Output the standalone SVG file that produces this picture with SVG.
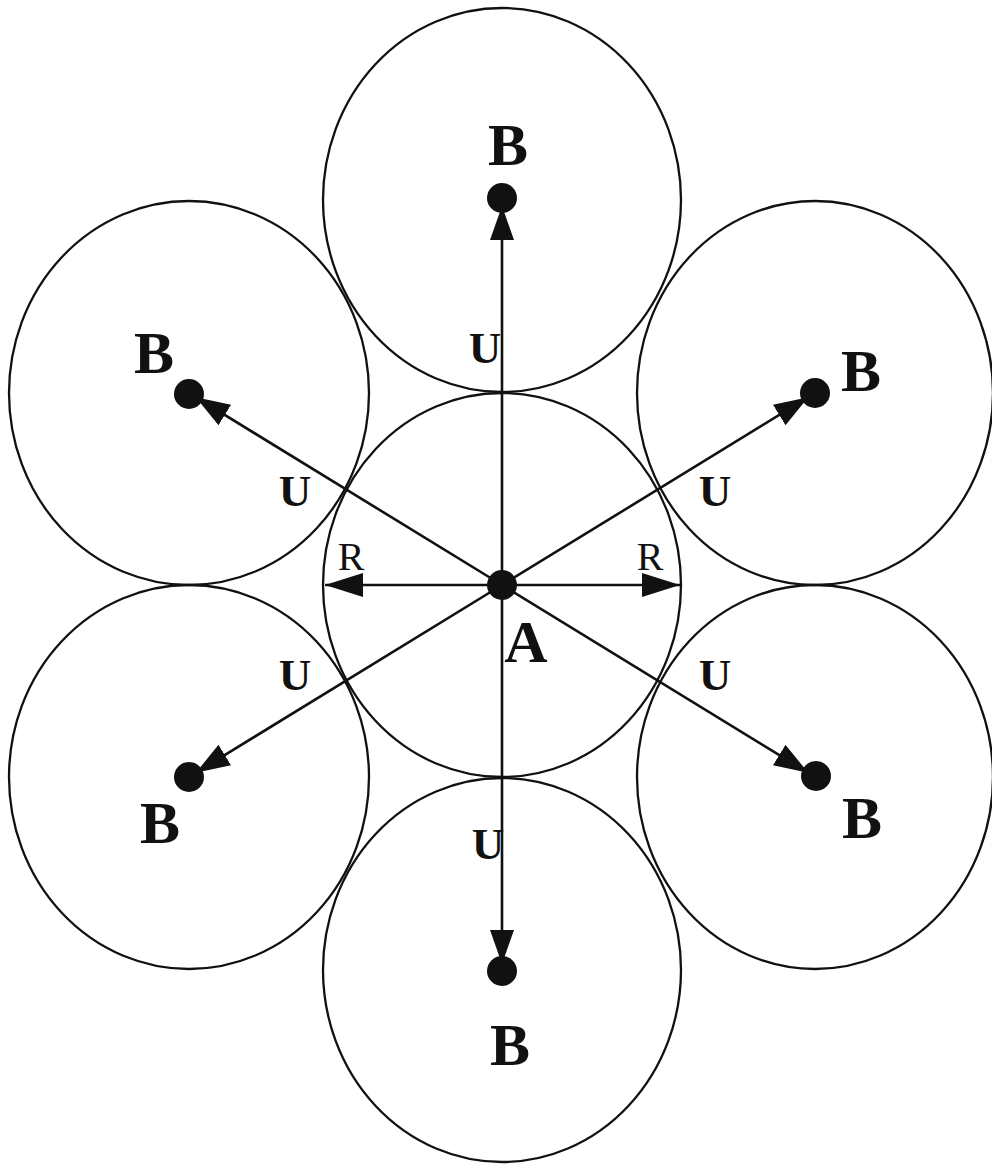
<svg xmlns="http://www.w3.org/2000/svg" width="992" height="1168" viewBox="0 0 992 1168">
  <style>
    .ring { fill: none; stroke: #111; stroke-width: 2.3; }
    .dot { fill: #111; }
    .conn { stroke: #111; stroke-width: 2.6; fill: none; }
    .lbl { font-family: "Liberation Serif", "Times New Roman", serif; font-weight: bold; fill: #111; text-anchor: middle; }
    .big { font-size: 60px; }
    .u { font-size: 45px; }
    .r { font-family: "Liberation Serif", "Times New Roman", serif; font-size: 40px; fill: #111; text-anchor: middle; }
  </style>
  <defs>
    <marker id="headB" markerUnits="userSpaceOnUse" markerWidth="36" markerHeight="26" refX="34" refY="12" orient="auto">
      <path d="M0,0 L34,12 L0,24 z" fill="#111"/>
    </marker>
    <marker id="headR" markerUnits="userSpaceOnUse" markerWidth="40" markerHeight="26" refX="38" refY="12" orient="auto">
      <path d="M0,0 L38,12 L0,24 z" fill="#111"/>
    </marker>
  </defs>
  <rect width="992" height="1168" fill="#fff"/>

  <g id="circles">
    <ellipse id="circle-A" class="ring" cx="502" cy="585" rx="179" ry="192"/>
    <ellipse id="circle-top" class="ring" cx="502" cy="200" rx="179" ry="192"/>
    <ellipse id="circle-bottom" class="ring" cx="502" cy="970" rx="179" ry="192"/>
    <ellipse id="circle-ul" class="ring" cx="189" cy="393" rx="180" ry="192"/>
    <ellipse id="circle-ur" class="ring" cx="815" cy="393" rx="178" ry="192"/>
    <ellipse id="circle-ll" class="ring" cx="189" cy="777" rx="180" ry="192"/>
    <ellipse id="circle-lr" class="ring" cx="815" cy="777" rx="178" ry="192"/>
  </g>

  <g id="connectors">
    <line class="conn" x1="502" y1="585" x2="502" y2="206" marker-end="url(#headB)"/>
    <line class="conn" x1="502" y1="585" x2="502" y2="964" marker-end="url(#headB)"/>
    <line class="conn" x1="502" y1="585" x2="195.8" y2="397.2" marker-end="url(#headB)"/>
    <line class="conn" x1="502" y1="585" x2="808.2" y2="397.2" marker-end="url(#headB)"/>
    <line class="conn" x1="502" y1="585" x2="195.8" y2="772.8" marker-end="url(#headB)"/>
    <line class="conn" x1="502" y1="585" x2="808.2" y2="772.8" marker-end="url(#headB)"/>
    <line class="conn" x1="502" y1="585" x2="325" y2="585" marker-end="url(#headR)"/>
    <line class="conn" x1="502" y1="585" x2="680" y2="585" marker-end="url(#headR)"/>
  </g>

  <g id="node-A">
    <circle class="dot" cx="502" cy="585" r="15"/>
    <text class="lbl big" x="526" y="662">A</text>
  </g>
  <g id="node-B-top">
    <circle class="dot" cx="502" cy="198" r="15"/>
    <text class="lbl big" x="508" y="165">B</text>
  </g>
  <g id="node-B-bottom">
    <circle class="dot" cx="502" cy="971" r="15"/>
    <text class="lbl big" x="510" y="1065">B</text>
  </g>
  <g id="node-B-ul">
    <circle class="dot" cx="189" cy="394" r="15"/>
    <text class="lbl big" x="154" y="373">B</text>
  </g>
  <g id="node-B-ur">
    <circle class="dot" cx="815" cy="393" r="15"/>
    <text class="lbl big" x="861" y="391">B</text>
  </g>
  <g id="node-B-ll">
    <circle class="dot" cx="189" cy="777" r="15"/>
    <text class="lbl big" x="160" y="843">B</text>
  </g>
  <g id="node-B-lr">
    <circle class="dot" cx="816" cy="776" r="15"/>
    <text class="lbl big" x="862" y="838">B</text>
  </g>

  <g id="labels">
    <text class="lbl u" x="485" y="363">U</text>
    <text class="lbl u" x="295" y="506">U</text>
    <text class="lbl u" x="715" y="506">U</text>
    <text class="lbl u" x="295" y="690">U</text>
    <text class="lbl u" x="715" y="690">U</text>
    <text class="lbl u" x="488" y="859">U</text>
    <text class="r" x="351" y="570">R</text>
    <text class="r" x="650" y="570">R</text>
  </g>
</svg>
